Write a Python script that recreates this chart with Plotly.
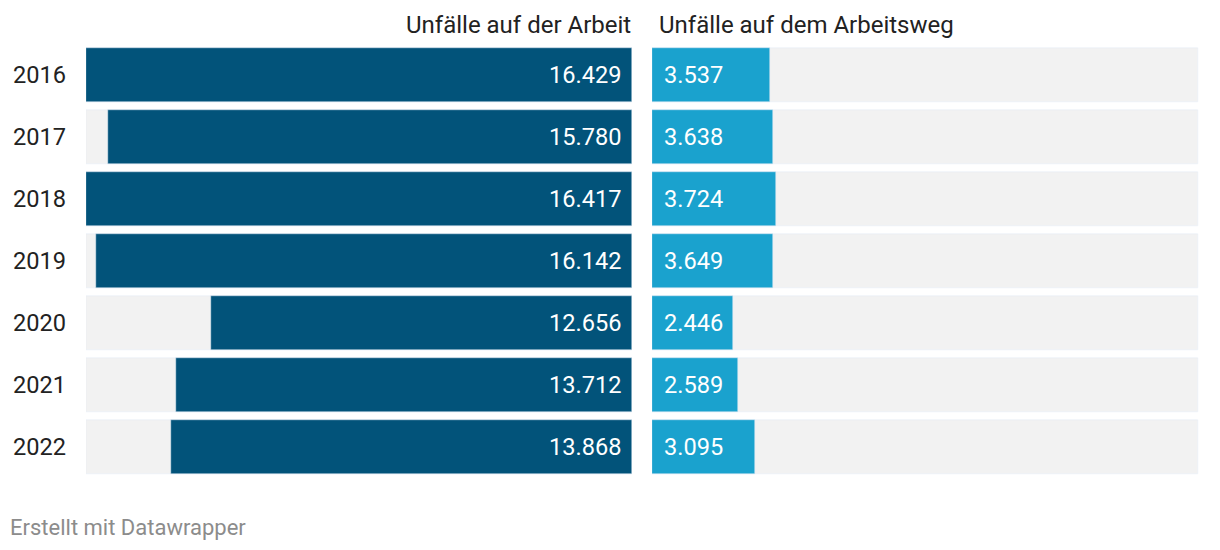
import plotly.graph_objects as go

years = ["2016", "2017", "2018", "2019", "2020", "2021", "2022"]
arbeit = [16429, 15780, 16417, 16142, 12656, 13712, 13868]
arbeitsweg = [3537, 3638, 3724, 3649, 2446, 2589, 3095]
header_left = "Unfälle auf der Arbeit"
header_right = "Unfälle auf dem Arbeitsweg"
footer = "Erstellt mit Datawrapper"

# page has an 8px body margin; figure is sized to fit inside the window
OFF = 8
W, H = 1212, 542
FONT = "Roboto"
DARK = "#02537a"
LIGHT = "#1aa2ce"
BG = "#f2f2f2"
TXT = "#222222"

def px(x):
    return (x - OFF) / W

vmax = max(arbeit)
ypos = list(range(len(years)))

def fmt(v):
    return f"{v:,}".replace(",", ".")

fig = go.Figure()
bw = 0.865
fig.add_trace(go.Bar(x=[vmax] * len(years), y=ypos, orientation="h", marker_color=BG,
                     width=bw, xaxis="x", yaxis="y", hoverinfo="skip", showlegend=False))
fig.add_trace(go.Bar(x=[vmax] * len(years), y=ypos, orientation="h", marker_color=BG,
                     width=bw, xaxis="x2", yaxis="y", hoverinfo="skip", showlegend=False))
fig.add_trace(go.Bar(x=arbeit, y=ypos, orientation="h", marker_color=DARK,
                     width=bw, xaxis="x", yaxis="y", showlegend=False))
fig.add_trace(go.Bar(x=arbeitsweg, y=ypos, orientation="h", marker_color=LIGHT,
                     width=bw, xaxis="x2", yaxis="y", showlegend=False))

FS = 23.6
annotations = []
for i, (yr, a, b) in enumerate(zip(years, arbeit, arbeitsweg)):
    annotations.append(dict(x=px(11), xref="paper", y=i, yref="y", text=yr, showarrow=False,
                            xanchor="left", yanchor="middle",
                            font=dict(family=FONT, size=FS, color=TXT)))
    annotations.append(dict(x=0, xref="x", y=i, yref="y", text=fmt(a), showarrow=False,
                            xanchor="right", yanchor="middle", xshift=-8,
                            font=dict(family=FONT, size=FS, color="white")))
    annotations.append(dict(x=0, xref="x2", y=i, yref="y", text=fmt(b), showarrow=False,
                            xanchor="left", yanchor="middle", xshift=10,
                            font=dict(family=FONT, size=FS, color="white")))

plot_top = 44 - OFF
plot_bot = 478 - OFF
ph = plot_bot - plot_top
hy = 1 + (plot_top - (25 - OFF)) / ph
annotations.append(dict(x=0, xref="x", y=hy, yref="paper", text=header_left, showarrow=False,
                        xanchor="right", yanchor="middle", xshift=1,
                        font=dict(family=FONT, size=24, color=TXT)))
annotations.append(dict(x=0, xref="x2", y=hy, yref="paper", text=header_right, showarrow=False,
                        xanchor="left", yanchor="middle", xshift=5,
                        font=dict(family=FONT, size=24, color=TXT)))
fy = 1 - ((527 - OFF) - plot_top) / ph
annotations.append(dict(x=px(8), xref="paper", y=fy, yref="paper", text=footer, showarrow=False,
                        xanchor="left", yanchor="middle",
                        font=dict(family=FONT, size=22, color="#8c8c8c")))

fig.update_layout(
    width=W, height=H,
    margin=dict(l=0, r=0, t=plot_top, b=H - plot_bot, pad=0),
    paper_bgcolor="white", plot_bgcolor="white",
    barmode="overlay", bargap=0,
    xaxis=dict(domain=[px(86), px(632)], range=[vmax, 0], visible=False, fixedrange=True),
    xaxis2=dict(domain=[px(652), px(1199)], range=[0, vmax * 547 / 546], visible=False,
                anchor="y", fixedrange=True),
    yaxis=dict(range=[len(years) - 0.5, -0.5], visible=False, fixedrange=True),
    annotations=annotations,
    font=dict(family=FONT),
)

fig.write_html("out.html")
